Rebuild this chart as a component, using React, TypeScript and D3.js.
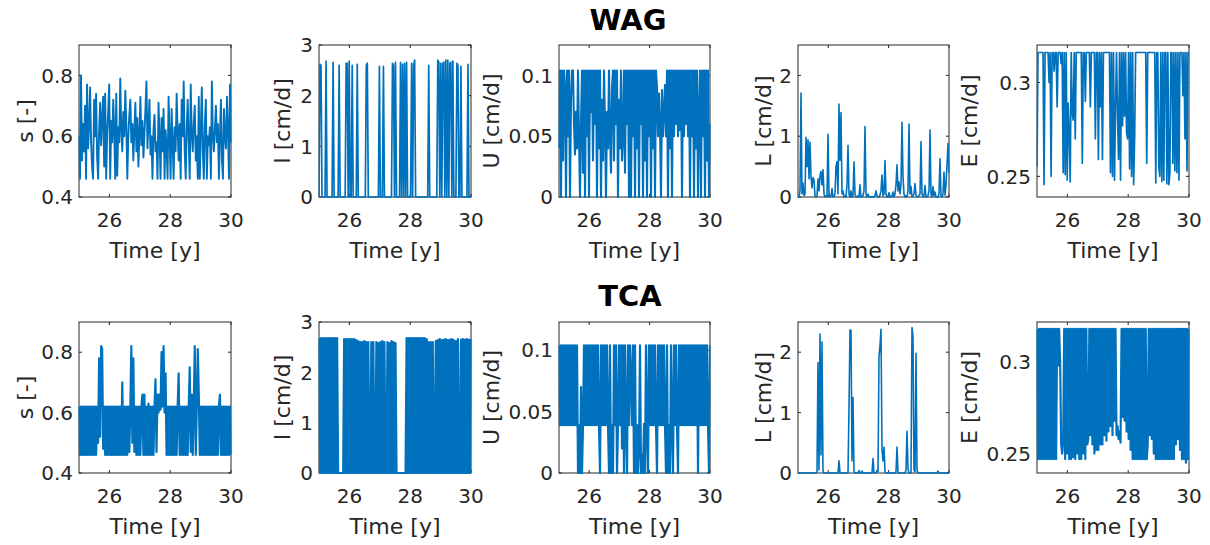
import React from 'react';
import * as d3 from 'd3';

// ---------- axis / tick data ----------
const timeStart = 25;
const timeEnd = 30;
const timeTicks = [26, 28, 30];
const timeTickLabels = ['26', '28', '30'];
const timeLabel = 'Time [y]';

const rowTitles = ['WAG', 'TCA'];
const varLabels = ['s [-]', 'I [cm/d]', 'U [cm/d]', 'L [cm/d]', 'E [cm/d]'];

const sTicks = [0.4, 0.6, 0.8];
const sTickLabels = ['0.4', '0.6', '0.8'];
const iTicks = [0, 1, 2, 3];
const iTickLabels = ['0', '1', '2', '3'];
const uTicks = [0, 0.05, 0.1];
const uTickLabels = ['0', '0.05', '0.1'];
const lTicks = [0, 1, 2];
const lTickLabels = ['0', '1', '2'];
const eTicks = [0.25, 0.3];
const eTickLabels = ['0.25', '0.3'];

const sLimits: [number, number] = [0.4, 0.9];
const iLimits: [number, number] = [0, 3];
const uLimitsWag: [number, number] = [0, 0.125];
const uLimitsTca: [number, number] = [0, 0.123];
const lLimits: [number, number] = [0, 2.5];
const eLimitsWag: [number, number] = [0.239, 0.32];
const eLimitsTca: [number, number] = [0.2394, 0.3218];

// ---------- series (uniformly spaced samples over 25..30 y) ----------
const wagS = [
  0.60,0.46,0.80,0.52,0.64,0.55,0.70,0.46,0.77,0.56,
  0.63,0.76,0.58,0.50,0.46,0.72,0.60,0.74,0.53,0.46,
  0.62,0.71,0.57,0.66,0.73,0.50,0.74,0.46,0.61,0.68,
  0.77,0.46,0.65,0.58,0.72,0.62,0.46,0.74,0.47,0.63,
  0.58,0.79,0.62,0.55,0.68,0.60,0.75,0.64,0.46,0.60,
  0.67,0.72,0.58,0.64,0.52,0.62,0.71,0.55,0.66,0.50,
  0.60,0.73,0.57,0.65,0.53,0.61,0.69,0.78,0.56,0.64,
  0.72,0.54,0.60,0.46,0.62,0.67,0.55,0.58,0.46,0.71,
  0.60,0.46,0.66,0.55,0.69,0.46,0.62,0.57,0.46,0.73,
  0.60,0.46,0.69,0.58,0.46,0.63,0.55,0.74,0.62,0.52,
  0.64,0.46,0.72,0.60,0.78,0.55,0.46,0.63,0.72,0.58,
  0.46,0.77,0.61,0.55,0.64,0.70,0.52,0.60,0.46,0.73,
  0.46,0.62,0.76,0.55,0.46,0.64,0.72,0.46,0.60,0.57,
  0.63,0.46,0.78,0.60,0.55,0.62,0.70,0.58,0.64,0.46,
  0.60,0.72,0.52,0.46,0.69,0.60,0.56,0.73,0.62,0.46,
  0.77,0.58,
];

const wagI = [
  0,2.62,2.6,0,0,0,0,2.68,0,0,
  0,0,0,0,2.66,0,0,0,0,0,
  2.6,0,0,0,0,0,0,2.64,2.64,0,
  2.68,0,0,2.6,0,0,0,0,2.62,0,
  0,0,0,0,0,0,0,2.6,2.64,0,
  0,0,0,0,0,0,0,0,0,0,
  2.58,0,0,0,2.58,0,0,0,0,0,
  0,0,0,2.64,2.6,0,2.66,0,0,0,
  0,2.66,0,2.62,0,2.64,0,2.66,0,0,
  0,0,2.64,0,2.6,2.7,0,0,0,0,
  0,0,0,0,0,0,0,0,0,2.6,
  0,0,0,0,0,0,0,0,2.7,2.66,
  0,2.64,0,2.64,2.66,0,2.7,0,2.7,0,
  2.64,2.66,0,2.68,0,0,0,2.64,2.6,0,
  0,2.58,0,0,0,0,0,0,2.62,0,
  0,0,
];

const wagU = [
  0.04,0.104,0.0,0.104,0.03,0.104,0.09,0.0,0.104,0.05,0.104,0.0,0.08,0.104,
  0.104,0.06,0.035,0.07,0.04,0.104,0.05,0.0,0.06,0.104,0.02,
  0.104,0.0,0.104,0.05,0.104,0.0,0.104,0.07,0.104,0.03,0.104,0.06,0.104,0.0,0.104,0.04,0.104,0.0,
  0.08,0.03,0.104,0.06,0.0,0.07,0.04,0.104,0.05,0.02,0.09,
  0.104,0.03,0.104,0.06,0.104,0.0,0.08,0.04,0.104,0.03,0.05,0.104,0.02,0.104,0.06,0.104,0.0,0.104,
  0.0,0.104,0.05,0.104,0.0,0.104,0.04,0.104,0.0,0.104,0.06,0.104,0.0,0.104,0.03,0.104,0.0,0.104,0.05,0.104,0.0,0.104,0.04,0.104,0.0,0.104,
  0.09,0.05,0.085,0.06,0.0,0.088,0.05,0.07,0.092,0.05,
  0.104,0.0,0.104,0.04,0.104,0.0,0.104,
  0.05,0.104,0.06,0.104,0.05,0.104,0.055,0.104,0.0,0.104,0.05,0.104,0.06,0.104,0.05,0.104,0.0,0.104,0.05,0.104,0.0,0.104,0.04,
  0.104,0.0,0.07,0.104,0.0,0.104,0.05,0.104,0.0,0.104,0.03,0.104,0.0,0.06,
];

const wagL = [
  0,0,0.1,1.71,0.05,0.23,0.02,0.05,0.98,0.5,
  0.94,0.3,0.9,0.33,0.15,0.32,0.28,0.02,0,0.02,
  0.3,0.1,0.35,0.42,0.2,0.45,0.05,0,0.02,0,
  1.03,0.05,0,0.02,0.14,0,0.01,0.05,0.5,0.58,
  0.05,1.53,0.6,1.39,0.05,0.1,0,0.02,0,0.2,
  0.85,0.05,0,0.1,0,0.02,0.58,0.05,0,0,
  0.02,0,0.2,0,0,0.02,0.1,1.16,0.05,0,
  0.05,0,0,0,0.01,0,0,0.02,0.1,0.02,
  0,0,0.03,0.1,0.36,0.02,0.05,0.6,0.05,0,
  0,0.07,0,0,0.02,0.08,0,0.05,0.2,0.53,
  0.1,0.25,0.05,0.2,1.23,0.33,0.05,0,0.02,0,
  0.1,1.2,0.05,0.17,0,0.02,0.05,0.22,0.03,0,
  0,0.02,0.05,0.91,0.05,0,0.02,0.19,0,0,
  0.02,0.1,1.1,0.05,0,0.17,0.02,0.08,0,0,
  0,0.05,0.63,0.02,0,0.05,0.41,0.03,0.2,0.52,
  0.88,0.4,
];

const wagE = [
  0.255,0.316,0.316,0.316,0.316,0.316,0.316,0.2456,0.316,0.316,
  0.316,0.316,0.3,0.316,0.25,0.316,0.316,0.306,0.316,0.316,
  0.287,0.316,0.316,0.316,0.31,0.316,0.252,0.316,0.251,0.316,
  0.248,0.289,0.273,0.247,0.316,0.284,0.28,0.316,0.27,0.316,
  0.316,0.316,0.316,0.316,0.316,0.257,0.316,0.316,0.29,0.316,
  0.316,0.316,0.316,0.287,0.316,0.316,0.316,0.316,0.27,0.316,
  0.316,0.259,0.316,0.287,0.316,0.259,0.316,0.316,0.316,0.316,
  0.316,0.316,0.316,0.252,0.316,0.25,0.316,0.248,0.287,0.316,
  0.282,0.259,0.316,0.248,0.316,0.277,0.316,0.282,0.316,0.273,
  0.27,0.316,0.254,0.316,0.25,0.316,0.2456,0.271,0.316,0.316,
  0.316,0.316,0.316,0.316,0.316,0.316,0.316,0.316,0.316,0.257,
  0.316,0.316,0.316,0.316,0.316,0.316,0.316,0.316,0.2465,0.316,
  0.316,0.255,0.25,0.316,0.2473,0.316,0.248,0.316,0.316,0.246,
  0.316,0.2456,0.252,0.316,0.316,0.257,0.316,0.253,0.316,0.252,
  0.316,0.248,0.316,0.316,0.316,0.293,0.316,0.27,0.316,0.253,
  0.316,0.316,
];

const tcaS = [
  0.62,0.46,0.62,0.46,0.62,0.46,0.62,0.46,0.62,0.46,0.62,0.46,0.62,0.46,0.62,0.46,0.62,0.46,0.62,
  0.50,0.78,0.52,0.82,0.81,0.48,0.62,
  0.46,0.62,0.46,0.62,0.46,0.62,0.46,0.62,0.46,0.62,0.46,0.62,0.46,0.62,0.46,0.62,
  0.46,0.70,0.46,
  0.62,0.46,0.62,0.46,0.62,0.47,
  0.62,0.82,0.50,0.78,0.47,
  0.62,0.46,0.62,0.46,0.62,0.46,0.62,
  0.66,0.46,0.66,
  0.46,0.62,0.46,0.63,0.46,0.62,0.46,0.62,0.46,
  0.62,0.71,0.47,0.66,
  0.60,0.66,0.61,0.80,0.62,0.82,0.60,0.73,
  0.46,0.62,0.46,0.62,0.46,0.62,0.46,0.62,0.46,0.62,0.46,0.62,
  0.73,
  0.46,0.62,0.46,0.62,0.46,0.62,0.46,0.62,0.46,0.62,
  0.75,0.47,0.66,
  0.46,0.62,
  0.82,
  0.46,0.62,
  0.81,
  0.66,
  0.46,0.62,0.46,0.62,0.46,0.62,0.46,0.62,0.46,0.62,0.46,0.62,0.46,0.62,0.46,0.62,0.46,0.62,0.46,0.62,
  0.66,
  0.46,0.62,0.46,0.62,0.46,0.62,0.46,0.62,0.46,0.62,0.46,
];

const tcaI = [
  2.68,0,2.68,0,2.68,0,2.68,0,2.68,0,2.68,0,2.68,0,2.68,0,2.68,0,2.68,0,
  0,0,0,0,0,
  2.66,0,2.66,0,2.66,0,2.66,0,2.66,0,2.66,0,2.64,0,2.62,0,2.6,0,2.6,0,2.62,0,2.6,0,2.6,
  0,0,
  2.6,0,2.6,
  0,0,
  2.6,0,2.58,0,2.6,0,2.62,0,2.6,0,
  0,
  2.6,0,2.58,0,2.62,0,2.6,0,2.58,0,
  0,0,0,0,0,0,0,0,0,
  2.68,0,2.68,0,2.68,0,2.68,0,2.68,0,2.68,0,2.68,0,2.68,0,2.68,0,2.68,0,2.66,0,2.6,0,2.6,0,2.6,
  0,0,
  2.62,0,2.64,0,2.66,0,2.64,0,2.65,0,2.66,0,2.64,0,2.65,0,2.66,0,2.64,0,2.62,0,2.66,0,
  0,
  2.65,0,2.66,0,2.65,0,2.66,0,2.65,0,2.66,
];

const tcaU = [
  0.104,0.039,0.104,0.039,0.104,0.039,0.104,0.039,0.104,0.039,0.104,0.039,0.104,0.039,0.104,0.039,0.104,0.039,0.104,
  0.0,0.039,0.0,0.07,0.0,0.039,
  0.104,0.039,0.104,0.039,0.104,0.039,0.104,0.039,0.104,0.039,0.104,0.039,0.104,0.039,0.104,0.039,
  0.0,
  0.104,0.039,0.104,0.039,0.104,0.039,0.104,0.039,
  0.0,0.104,0.0,0.039,0.0,
  0.104,0.039,0.104,
  0.0,
  0.039,0.104,0.039,0.104,
  0.02,
  0.104,
  0.0,
  0.104,0.039,
  0.0,
  0.104,0.039,0.104,
  0.08,
  0.039,0.104,
  0.0,
  0.104,
  0.0,0.039,0.0,0.02,0.104,
  0.0,0.015,0.0,0.04,0.0,
  0.104,0.039,
  0.0,
  0.104,0.039,0.104,0.039,0.104,0.039,0.104,0.039,
  0.0,
  0.104,0.039,0.104,0.039,0.104,0.039,0.104,0.039,
  0.0,0.104,0.0,0.039,0.0,0.104,
  0.039,
  0.0,
  0.104,0.039,0.104,0.039,
  0.0,
  0.104,0.039,0.104,0.039,0.104,0.039,0.104,0.039,0.104,0.039,0.104,0.039,0.104,0.039,0.104,0.039,0.104,0.039,0.104,
  0.0,
  0.104,0.039,0.104,0.039,0.104,0.039,0.104,0.039,0.104,0.039,
  0.0,
  0.104,
];

const tcaL = [
  0,0,0,0,0,0,0,0,0,0,
  0,0,0,0,0,0,0,0,0,0.02,
  1.83,0.05,2.3,0.3,2.17,0.02,0,0,0,0,
  0,0,0,0,0,0,0,0,0,0,
  0,0.2,0,0,0,0,0,0,0,0,
  0,1.09,2.37,2.36,0.2,1.25,0.02,0,0,0,
  0,0.04,0,0,0.03,0,0,0,0,0,
  0,0,0,0,0,0.24,0,0,0,0.04,
  0.02,1.93,2.11,2.38,0.4,0.2,0.43,0.02,0,0,
  0,0,0,0,0,0,0,0,0.02,0.43,
  0,0,0,0,0,0,0,0,0.05,0.69,
  0.07,0,0,0,2.41,2.25,0.05,0.02,1.98,0.05,
  0,0,0,0,0,0,0,0,0,0,
  0,0,0,0,0,0,0,0,0,0,
  0.03,0,0,0,0,0,0,0,0,0,
  0,0,
];

const tcaE = [
  0.318,0.247,0.318,0.247,0.318,0.247,0.318,0.247,0.318,0.247,0.318,0.247,0.318,0.247,0.318,0.247,0.318,0.247,0.318,0.247,
  0.318,0.298,0.318,0.30,
  0.255,0.25,0.256,
  0.318,0.247,0.318,0.25,0.318,0.247,0.318,0.247,0.318,0.248,0.318,0.247,0.318,0.25,0.318,0.247,
  0.318,0.247,0.318,0.25,0.318,0.247,0.318,
  0.255,0.258,0.318,
  0.26,0.318,0.255,0.318,0.25,0.318,0.252,
  0.318,0.252,0.318,0.255,0.318,0.255,0.318,0.26,0.318,0.257,0.318,0.262,0.318,0.265,0.318,0.26,0.318,0.268,0.318,0.26,
  0.265,0.258,0.262,0.256,0.318,
  0.27,0.318,0.268,0.318,0.262,0.318,0.258,0.318,0.252,0.318,0.247,
  0.318,0.247,0.318,0.247,0.318,0.247,0.318,0.247,0.318,0.247,0.318,0.247,0.318,0.247,
  0.255,0.318,0.26,0.318,0.258,0.318,0.25,0.318,
  0.247,0.318,0.247,0.318,0.247,0.318,0.247,0.318,0.247,0.318,0.247,0.318,0.247,0.318,0.247,0.318,0.247,0.318,0.247,0.318,
  0.255,0.318,0.258,0.318,0.252,0.318,
  0.247,0.318,0.247,0.318,0.245,0.318,0.247,0.318,
];

// ---------- layout ----------
const W = 1210;
const H = 545;
const COL_X = [79, 319, 559, 798, 1037];
const COL_W = [152, 152, 151, 151, 152];
const ROW_Y = [45, 322];
const ROW_H = [152, 151];
const YLABEL_OFF = [46, 29, 60, 27, 60];
const TITLE_X = [628, 630];
const TITLE_Y = [30, 306];
const FONT = '"DejaVu Sans", Verdana, sans-serif';
const AX = '#262626';
const BLUE = '#0072BD';
const TICK_LEN = 3;

type PanelSpec = {
  values: number[];
  limits: [number, number];
  ticks: number[];
  tickLabels: string[];
  sw: number;
};

const rows: PanelSpec[][] = [
  [
    { values: wagS, limits: sLimits, ticks: sTicks, tickLabels: sTickLabels, sw: 1.9 },
    { values: wagI, limits: iLimits, ticks: iTicks, tickLabels: iTickLabels, sw: 1.7 },
    { values: wagU, limits: uLimitsWag, ticks: uTicks, tickLabels: uTickLabels, sw: 2.1 },
    { values: wagL, limits: lLimits, ticks: lTicks, tickLabels: lTickLabels, sw: 1.6 },
    { values: wagE, limits: eLimitsWag, ticks: eTicks, tickLabels: eTickLabels, sw: 1.7 },
  ],
  [
    { values: tcaS, limits: sLimits, ticks: sTicks, tickLabels: sTickLabels, sw: 2.2 },
    { values: tcaI, limits: iLimits, ticks: iTicks, tickLabels: iTickLabels, sw: 2.2 },
    { values: tcaU, limits: uLimitsTca, ticks: uTicks, tickLabels: uTickLabels, sw: 2.2 },
    { values: tcaL, limits: lLimits, ticks: lTicks, tickLabels: lTickLabels, sw: 1.6 },
    { values: tcaE, limits: eLimitsTca, ticks: eTicks, tickLabels: eTickLabels, sw: 2.2 },
  ],
];

function Panel(props: { spec: PanelSpec; x0: number; y0: number; w: number; h: number; label: string; labelOff: number; id: string }) {
  const { spec, x0, y0, w, h, label, labelOff, id } = props;
  const x = d3.scaleLinear().domain([timeStart, timeEnd]).range([x0, x0 + w]);
  const y = d3.scaleLinear().domain(spec.limits).range([y0 + h, y0]);
  const n = spec.values.length;
  const line = d3
    .line<number>()
    .x((_, i) => x(timeStart + (i * (timeEnd - timeStart)) / (n - 1)))
    .y((d) => y(d));
  return (
    <g>
      <defs>
        <clipPath id={id}>
          <rect x={x0 - 0.5} y={y0 - 2} width={w + 1} height={h + 3} />
        </clipPath>
      </defs>
      <rect x={x0} y={y0} width={w} height={h} fill="#ffffff" stroke={AX} strokeWidth={1} />
      {timeTicks.map((t) => (
        <g key={'xt' + t}>
          <line x1={x(t)} x2={x(t)} y1={y0 + h} y2={y0 + h - TICK_LEN} stroke={AX} strokeWidth={1} />
          <line x1={x(t)} x2={x(t)} y1={y0} y2={y0 + TICK_LEN} stroke={AX} strokeWidth={1} />
        </g>
      ))}
      {spec.ticks.map((t) => (
        <g key={'yt' + t}>
          <line x1={x0} x2={x0 + TICK_LEN} y1={y(t)} y2={y(t)} stroke={AX} strokeWidth={1} />
          <line x1={x0 + w - TICK_LEN} x2={x0 + w} y1={y(t)} y2={y(t)} stroke={AX} strokeWidth={1} />
        </g>
      ))}
      <path
        d={line(spec.values) || ''}
        fill="none"
        stroke={BLUE}
        strokeWidth={spec.sw}
        strokeLinejoin="round"
        clipPath={`url(#${id})`}
      />
      {timeTicks.map((t, i) => (
        <text key={'xl' + t} x={x(t)} y={y0 + h + 29.5} textAnchor="middle" fontSize={20} fill={AX} fontFamily={FONT}>
          {timeTickLabels[i]}
        </text>
      ))}
      {spec.ticks.map((t, i) => (
        <text key={'yl' + t} x={x0 - 6} y={y(t)} dy="0.36em" textAnchor="end" fontSize={20} fill={AX} fontFamily={FONT}>
          {spec.tickLabels[i]}
        </text>
      ))}
      <text x={x0 + w / 2} y={y0 + h + 61} textAnchor="middle" fontSize={22} fill={AX} fontFamily={FONT}>
        {timeLabel}
      </text>
      <text
        transform={`translate(${x0 - labelOff},${y0 + h / 2}) rotate(-90)`}
        textAnchor="middle"
        fontSize={22}
        fill={AX}
        fontFamily={FONT}
      >
        {label}
      </text>
    </g>
  );
}

export default function App() {
  return (
    <svg width={W} height={H} style={{ position: 'absolute', left: 0, top: 0, background: '#ffffff' }}>
      <rect x={0} y={0} width={W} height={H} fill="#ffffff" />
      {rows.map((row, r) => (
        <g key={'row' + r}>
          {row.map((spec, c) => (
            <Panel
              key={'p' + r + c}
              id={'clip' + r + c}
              spec={spec}
              x0={COL_X[c]}
              y0={ROW_Y[r]}
              w={COL_W[c]}
              h={ROW_H[r]}
              label={varLabels[c]}
              labelOff={YLABEL_OFF[c]}
            />
          ))}
          <text x={TITLE_X[r]} y={TITLE_Y[r]} textAnchor="middle" fontSize={29} fontWeight="bold" fill="#000000" fontFamily={FONT}>
            {rowTitles[r]}
          </text>
        </g>
      ))}
    </svg>
  );
}
